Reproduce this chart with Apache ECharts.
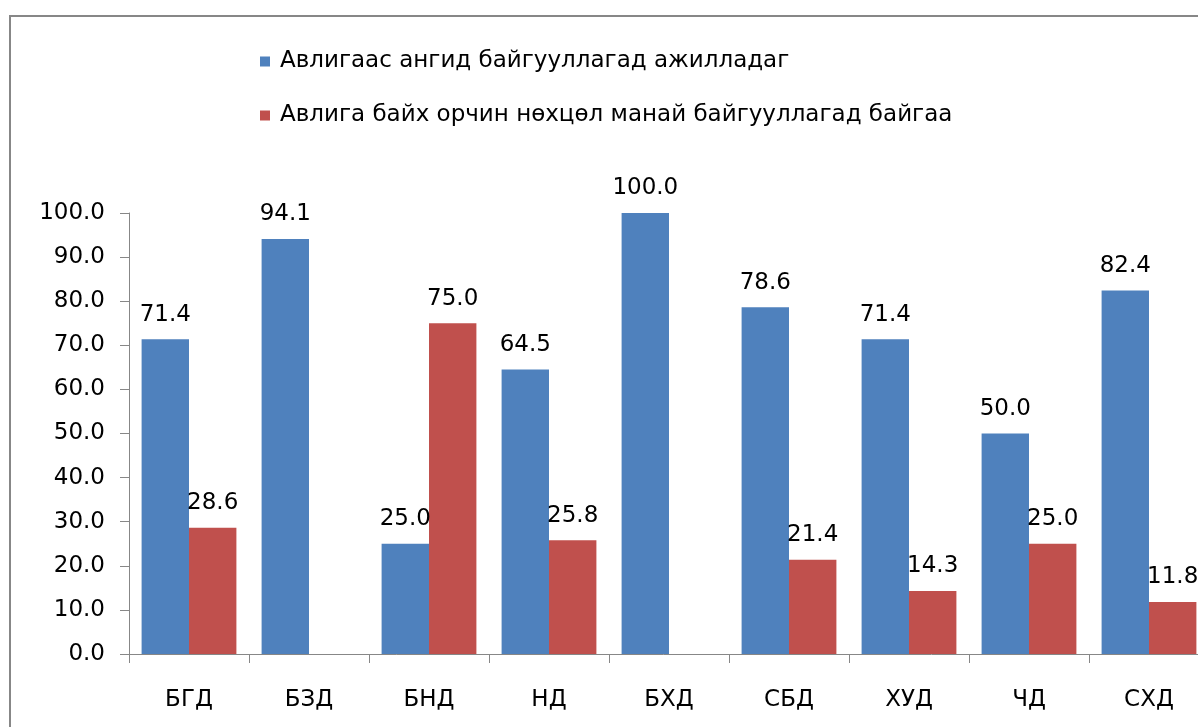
<!DOCTYPE html>
<html>
<head>
    <meta charset="utf-8">
    <script src="https://cdn.jsdelivr.net/npm/echarts@6/dist/echarts.min.js"></script>
    <style>
        body { margin: 0; background: #fff; }
    </style>
</head>
<body>
<div id="main" style="width:1198px;height:727px"></div>
<script type="text/javascript">
    var categories = ['БГД', 'БЗД', 'БНД', 'НД', 'БХД', 'СБД', 'ХУД', 'ЧД', 'СХД'];
    var seriesNames = ['Авлигаас ангид байгууллагад ажилладаг', 'Авлига байх орчин нөхцөл манай байгууллагад байгаа'];
    // '-' = no bar
    var cleanOrg = [71.4, 94.1, 25.0, 64.5, 100.0, 78.6, 71.4, 50.0, 82.4];
    var corruptEnv = [28.6, '-', 75.0, 25.8, '-', 21.4, 14.3, 25.0, 11.8];

    var FONT = 'DejaVu Sans';
    var FS = 23;
    var myChart = echarts.init(document.getElementById('main'));

    var labelOpt = {
        show: true,
        position: 'top',
        distance: 13,
        fontFamily: FONT,
        fontSize: FS,
        color: '#000',
        formatter: function (p) {
            return Number(p.value).toFixed(1);
        }
    };

    option = {
        backgroundColor: '#fff',
        animation: false,
        // outer frame of the chart
        graphic: [{
            type: 'rect',
            shape: { x: 10, y: 16, width: 1400, height: 900 },
            style: { fill: 'none', stroke: '#878787', lineWidth: 2 }
        }],
        legend: {
            orient: 'vertical',
            left: 255,
            top: 45,
            itemWidth: 10,
            itemHeight: 10,
            itemGap: 31,
            icon: 'rect',
            textStyle: {
                fontFamily: FONT,
                fontSize: FS,
                color: '#000',
                padding: [0, 0, 0, 5]
            },
            data: seriesNames
        },
        grid: {
            left: 129,
            top: 213,
            bottom: 73,
            width: 1080,
            containLabel: false,
            outerBoundsMode: 'none'
        },
        xAxis: {
            type: 'category',
            data: categories,
            axisLine: { lineStyle: { color: '#878787', width: 1 } },
            axisTick: { show: true, length: 9, lineStyle: { color: '#878787' } },
            axisLabel: {
                margin: 35,
                fontFamily: FONT,
                fontSize: FS,
                color: '#000'
            }
        },
        yAxis: {
            type: 'value',
            min: 0,
            max: 100,
            interval: 10,
            splitLine: { show: false },
            axisLine: { show: true, lineStyle: { color: '#878787', width: 1 } },
            axisTick: { show: true, length: 9, lineStyle: { color: '#878787' } },
            axisLabel: {
                margin: 24,
                fontFamily: FONT,
                fontSize: FS,
                color: '#000',
                formatter: function (v) { return v.toFixed(1); }
            }
        },
        series: [{
            name: seriesNames[0],
            type: 'bar',
            data: cleanOrg,
            barGap: '0%',
            barCategoryGap: '21%',
            itemStyle: { color: '#4F81BD' },
            label: labelOpt
        }, {
            name: seriesNames[1],
            type: 'bar',
            data: corruptEnv,
            itemStyle: { color: '#C0504D' },
            label: labelOpt
        }]
    };
    myChart.setOption(option);
</script>
</body>
</html>
